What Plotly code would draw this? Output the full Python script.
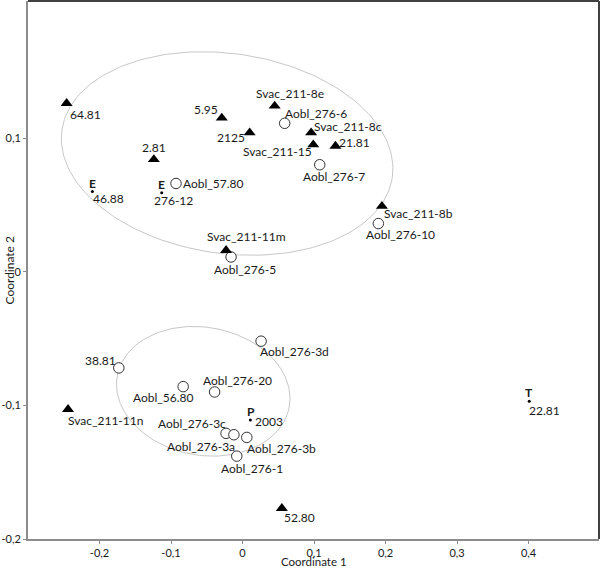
import numpy as np
import plotly.graph_objects as go

# --- data ---
tri_labels = ['64.81', '5.95', '2125', '2.81', 'Svac_211-8e', 'Svac_211-8c', 'Svac_211-15',
              '21.81', 'Svac_211-8b', 'Svac_211-11m', 'Svac_211-11n', '52.80']
tri_x = [-0.246, -0.029, 0.010, -0.124, 0.045, 0.096, 0.099, 0.130, 0.195, -0.023, -0.244, 0.055]
tri_y = [0.126, 0.115, 0.104, 0.084, 0.124, 0.104, 0.095, 0.094, 0.049, 0.016, -0.103, -0.177]

circ_labels = ['Aobl_276-6', 'Aobl_276-7', 'Aobl_276-10', 'Aobl_276-5', 'Aobl_57.80', 'Aobl_276-3d',
               '38.81', 'Aobl_276-20', 'Aobl_56.80', 'Aobl_276-3c', 'Aobl_276-3a', 'Aobl_276-3b',
               'Aobl_276-1']
circ_x = [0.059, 0.108, 0.190, -0.016, -0.093, 0.026, -0.173, -0.039, -0.083, -0.023, -0.012, 0.006, -0.008]
circ_y = [0.111, 0.080, 0.036, 0.011, 0.066, -0.052, -0.072, -0.090, -0.086, -0.121, -0.122, -0.124, -0.138]

dot_letters = ['E', 'E', 'P', 'T']
dot_labels = ['46.88', '276-12', '2003', '22.81']
dot_x = [-0.210, -0.113, 0.011, 0.401]
dot_y = [0.060, 0.059, -0.111, -0.097]

x_tick_vals = [-0.2, -0.1, 0, 0.1, 0.2, 0.3, 0.4]
x_tick_text = ['-0,2', '-0,1', '0', '0,1', '0,2', '0,3', '0,4']
y_tick_vals = [-0.2, -0.1, 0, 0.1]
y_tick_text = ['-0,2', '-0,1', '0', '0,1']

# ellipse centres (data units)
ell_cx = [-0.0215, -0.0549]
ell_cy = [0.0884, -0.0895]

# --- layout / style ---
W, H = 600, 568
M = dict(l=24, r=1, t=1, b=29)
x_range = [-0.3, 0.4986]
y_range = [-0.2, 0.2025]
px_x = (W - M['l'] - M['r']) / (x_range[1] - x_range[0])
px_y = (H - M['t'] - M['b']) / (y_range[1] - y_range[0])

# label offsets in pixels (xshift, yshift)
tri_shift = [(19, -11), (-16, 8), (-19, -5), (0, 12), (15, 12), (37, 6), (-36, -7),
             (19, 4), (37, -7), (20, 14), (37, -11), (18, -9)]
circ_shift = [(31, 10), (14, -12), (22, -11), (14, -13), (37, 0), (33, -10), (-18, 7),
              (23, 11), (-20, -11), (-34, 10), (-33, -12), (35, -11), (15, -12)]
dot_shift = [(16, -7), (12, -8), (19, -1), (15, -9)]
letter_shift = [(0, 8), (0, 8), (1, 9), (0, 9)]

# ellipse sizes in screen pixels: semi-major, semi-minor, tilt (deg)
ell_shape = [(168, 100, -8), (88, 64, -10)]

font_family = 'Lato, Liberation Sans, sans-serif'
txt_color = '#1a1a1a'

fig = go.Figure()

t = np.linspace(0, 2 * np.pi, 200)
for cx, cy, (a, b, ang) in zip(ell_cx, ell_cy, ell_shape):
    phi = np.deg2rad(ang)
    ex = cx + (a * np.cos(t) * np.cos(phi) - b * np.sin(t) * np.sin(phi)) / px_x
    ey = cy + (a * np.cos(t) * np.sin(phi) + b * np.sin(t) * np.cos(phi)) / px_y
    fig.add_trace(go.Scatter(x=ex, y=ey, mode='lines', hoverinfo='skip',
                             line=dict(color='#c8c8c8', width=1)))

fig.add_trace(go.Scatter(
    x=circ_x, y=circ_y, mode='markers', text=circ_labels,
    marker=dict(symbol='circle', size=10.5, color='white', line=dict(color='#333333', width=1)),
))
fig.add_trace(go.Scatter(
    x=tri_x, y=tri_y, mode='markers', text=tri_labels,
    marker=dict(symbol='triangle-up', size=10.5, color='black', line=dict(width=0)),
))
fig.add_trace(go.Scatter(
    x=dot_x, y=dot_y, mode='markers', text=dot_labels,
    marker=dict(symbol='circle', size=3, color='black', line=dict(width=0)),
))

annotations = []
def label(x, y, txt, shift, size=12):
    annotations.append(dict(x=x, y=y, xref='x', yref='y', text=txt, showarrow=False,
                            xshift=shift[0], yshift=shift[1],
                            font=dict(family=font_family, size=size, color=txt_color)))

for x, y, s, sh in zip(tri_x, tri_y, tri_labels, tri_shift):
    label(x, y, s, sh)
for x, y, s, sh in zip(circ_x, circ_y, circ_labels, circ_shift):
    label(x, y, s, sh)
for x, y, s, sh in zip(dot_x, dot_y, dot_labels, dot_shift):
    label(x, y, s, sh)
for x, y, s, sh in zip(dot_x, dot_y, dot_letters, letter_shift):
    label(x, y, f'<b>{s}</b>', sh)

# axis titles
annotations.append(dict(x=0.5, y=0, xref='paper', yref='paper', text='Coordinate 1', showarrow=False,
                        xanchor='center', yanchor='bottom', yshift=-31,
                        font=dict(family=font_family, size=11.5, color=txt_color)))
annotations.append(dict(x=0, y=0.5, xref='paper', yref='paper', text='Coordinate 2', showarrow=False,
                        xanchor='right', yanchor='middle', xshift=-10, textangle=-90,
                        font=dict(family=font_family, size=12, color=txt_color)))

axis_common = dict(showgrid=False, zeroline=False, showline=True, linecolor='#8c8c8c', linewidth=2,
                   ticks='outside', ticklen=3, tickcolor='#8c8c8c', tickwidth=1,
                   tickfont=dict(family=font_family, size=11, color=txt_color))

fig.update_layout(
    width=W, height=H, margin=M,
    paper_bgcolor='white', plot_bgcolor='white',
    showlegend=False,
    xaxis=dict(range=x_range, tickvals=x_tick_vals, ticktext=x_tick_text, **axis_common),
    yaxis=dict(range=y_range, tickvals=y_tick_vals, ticktext=y_tick_text, ticklabelstandoff=0, **axis_common),
    annotations=annotations,
    shapes=[
        dict(type='line', xref='paper', yref='paper', x0=0, x1=1, y0=1, y1=1,
             line=dict(color='#404040', width=2)),
        dict(type='line', xref='paper', yref='paper', x0=1, x1=1, y0=0, y1=1,
             line=dict(color='#404040', width=2)),
    ],
)

# drop the default page margin so the figure sits at the window's top-left corner
fig.write_html('out.html', config={'displayModeBar': False},
               post_script="document.body.style.margin='0';")
